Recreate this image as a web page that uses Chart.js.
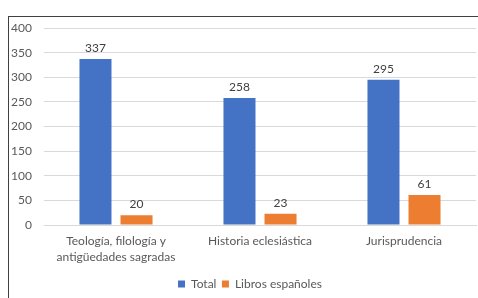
<!DOCTYPE html>
<html>
<head>
<meta charset="utf-8">
<script src="https://cdn.jsdelivr.net/npm/chart.js@4"></script>
<style>
  html, body { margin: 0; padding: 0; background: #fff; }
  #wrap { position: relative; width: 478px; height: 298px; }
  #frame { position: absolute; left: 8px; top: 16px; width: 480px; height: 300px;
           border-top: 1px solid #404040; border-left: 1px solid #404040; }
  canvas { position: absolute; left: 0; top: 0; }
</style>
</head>
<body>
<div id="wrap">
  <div id="frame"></div>
  <canvas id="my-chart" width="478" height="298"></canvas>
</div>
<script>
// values
let categories = [["Teología, filología y", "antigüedades sagradas"], "Historia eclesiástica", "Jurisprudencia"];
let totalVals = [337, 258, 295];
let spanishVals = [20, 23, 61];
let yTicks = [0, 50, 100, 150, 200, 250, 300, 350, 400];

let font = "Lato, 'Open Sans', sans-serif";

// draws the numbers above each bar
let valueLabels = {
  id: "valueLabels",
  afterDatasetsDraw(chart) {
    let ctx = chart.ctx;
    ctx.save();
    ctx.font = "12px " + font;
    ctx.fillStyle = "#404040";
    ctx.textAlign = "center";
    ctx.textBaseline = "bottom";
    chart.data.datasets.forEach((ds, i) => {
      chart.getDatasetMeta(i).data.forEach((bar, j) => {
        ctx.fillText(ds.data[j], bar.x, bar.y - 5);
      });
    });
    ctx.restore();
  },
};

let myChart = document.getElementById("my-chart").getContext("2d");

let userChart = new Chart(myChart, {
  type: "bar",
  data: {
    labels: categories,
    datasets: [
      {
        label: "Total",
        data: totalVals,
        backgroundColor: "#4472c4",
        categoryPercentage: 0.57,
        barPercentage: 0.78,
      },
      {
        label: "Libros españoles",
        data: spanishVals,
        backgroundColor: "#ed7d31",
        categoryPercentage: 0.57,
        barPercentage: 0.78,
      },
    ],
  },
  options: {
    responsive: false,
    animation: false,
    layout: { padding: { top: 28, right: 2, left: 0, bottom: 0 } },
    scales: {
      y: {
        min: 0,
        max: 400,
        afterBuildTicks: (s) => { s.ticks = yTicks.map((v) => ({ value: v })); },
        afterFit: (s) => { s.width = 44; },
        grid: { color: "#d9d9d9", drawTicks: false },
        border: { display: false },
        ticks: { padding: 12, color: "#595959", font: { family: font, size: 12 } },
      },
      x: {
        afterFit: (s) => { s.height = 45.5; },
        grid: { display: false, drawTicks: false },
        border: { color: "#d9d9d9" },
        ticks: { padding: 8, color: "#595959", font: { family: font, size: 12, lineHeight: 1.35 } },
      },
    },
    plugins: {
      legend: {
        position: "bottom",
        labels: {
          boxWidth: 7,
          boxHeight: 7,
          padding: 5.5,
          color: "#595959",
          font: { family: font, size: 12 },
        },
      },
      tooltip: { enabled: false },
    },
  },
  plugins: [valueLabels],
});

// the legend sits a bit right of the page centre in the original
let legendDraw = userChart.legend.draw;
userChart.legend.draw = function (...args) {
  this.ctx.save();
  this.ctx.translate(12, 2);
  legendDraw.apply(this, args);
  this.ctx.restore();
};
userChart.draw();
</script>
</body>
</html>
